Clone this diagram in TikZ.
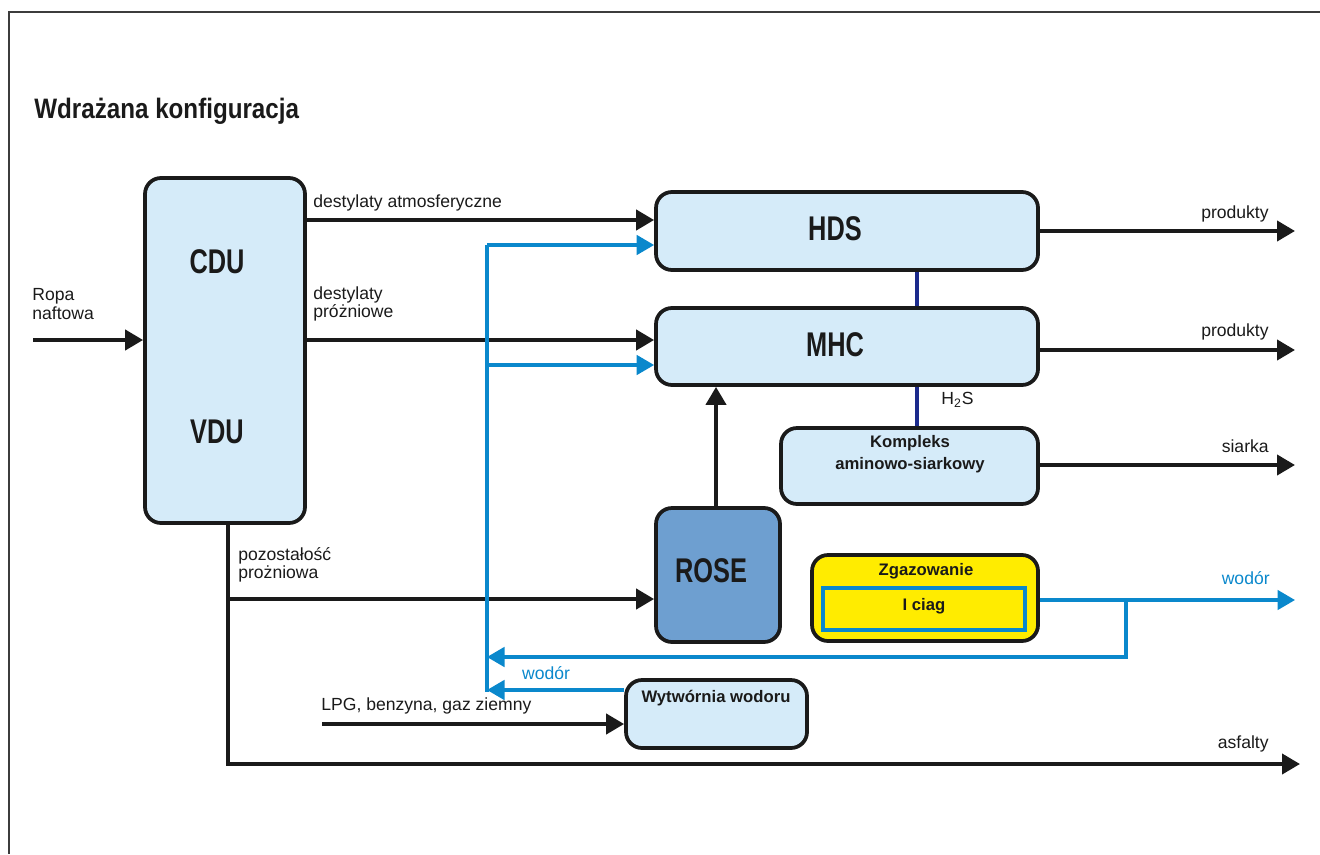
\documentclass[tikz,border=0pt]{standalone}
\usepackage{fontspec}
\setmainfont{Liberation Sans}
\newfontfamily\condfont[FakeStretch=0.74]{Liberation Sans}
\newfontfamily\titlefont[FakeStretch=0.86]{Liberation Sans}
\usetikzlibrary{positioning}
\usetikzlibrary{arrows.meta}
\usetikzlibrary{calc}

\definecolor{boxblue}{HTML}{D5EBF9}
\definecolor{roseblue}{HTML}{6E9FD0}
\definecolor{gasyellow}{HTML}{FFEC00}
\definecolor{hydroblue}{HTML}{0A88CC}
\definecolor{sulfnavy}{HTML}{1B2A8C}
\definecolor{ink}{HTML}{1A1A1A}

\tikzset{
  unit/.style={draw=ink, line width=0.75mm, rounded corners=3.2mm, fill=boxblue, inner sep=0pt},
  flow/.style={draw=ink, line width=0.8mm, -{Triangle[length=3.6mm,width=4mm]}},
  hflow/.style={draw=hydroblue, line width=0.65mm, -{Triangle[length=3.5mm,width=3.9mm]}},
  hline/.style={draw=hydroblue, line width=0.65mm},
  sline/.style={draw=sulfnavy, line width=0.65mm},
  lbl/.style={font=\fontsize{10}{9}\selectfont, text=ink, inner sep=0pt, align=left},
  big/.style={font=\condfont\bfseries\fontsize{19.5}{19.5}\selectfont, text=ink, inner sep=0pt},
  small/.style={font=\bfseries\fontsize{9.5}{12.5}\selectfont, text=ink, inner sep=0pt, align=center}
}

\begin{document}
\begin{tikzpicture}[x=0.2mm, y=-0.2mm]
  \useasboundingbox (0,0) rectangle (1320,854);

  % frame and title
  \draw[line width=0.45mm, ink!85] (1320,12) -- (9,12) -- (9,854);
  \node[anchor=west, inner sep=0pt, text=ink, font=\titlefont\bfseries\fontsize{16}{16}\selectfont] (title) at (34,111) {Wdrażana konfiguracja};

  % units
  \node[unit, minimum width=32mm, minimum height=69mm] (cdu) at (225,350.5) {};
  \node[big] (cdutxt) at (217,262) {CDU};
  \node[big] (vdutxt) at (217,432) {VDU};

  \node[unit, minimum width=76.4mm, minimum height=15.6mm] (hds) at (847,231) {};
  \node[big] (hdstxt) at (835,229) {HDS};
  \node[unit, minimum width=76.4mm, minimum height=15.4mm] (mhc) at (847,346.5) {};
  \node[big] (mhctxt) at (835,345) {MHC};

  \node[unit, minimum width=51.4mm, minimum height=15.2mm] (amine) at (909.5,466) {};
  \node[small] (aminetxt) at (910,454) {Kompleks\\aminowo-siarkowy};

  \node[unit, fill=roseblue, minimum width=24.8mm, minimum height=26.8mm] (rose) at (718,575) {};
  \node[big] (rosetxt) at (711,571) {ROSE};

  \node[unit, fill=gasyellow, minimum width=45.2mm, minimum height=17.2mm] (gas) at (925,598) {};
  \node[small] (gastxt) at (926,571) {Zgazowanie};
  \node[draw=hydroblue, line width=0.7mm, fill=gasyellow, minimum width=40.4mm, minimum height=8.4mm, inner sep=0pt] (train) at (924,609) {};
  \node[small] (traintxt) at (924,606) {I ciag};

  \node[unit, minimum width=36.2mm, minimum height=13.6mm] (plant) at (716.5,714) {};
  \node[small] (planttxt) at (716,698) {Wytwórnia wodoru};

  % levels
  \coordinate (crude) at (33,340);
  \coordinate (yatm) at (0,220);
  \coordinate (yvac) at (0,340);
  \coordinate (htop) at (487,245);
  \coordinate (hmid) at (487,365);
  \coordinate (hret) at (487,657);
  \coordinate (hlow) at (487,690);
  \coordinate (hbot) at (487,692);
  \coordinate (hturn) at (1126,657);
  \coordinate (hout) at (1295,600);
  \coordinate (sx) at (917,0);
  \coordinate (rx) at (716,0);
  \coordinate (rbr) at (228,599);
  \coordinate (rcor) at (228,764);
  \coordinate (asph) at (1300,764);
  \coordinate (lpg) at (322,724);
  \coordinate (prod1) at (1295,231);
  \coordinate (prod2) at (1295,350);
  \coordinate (sulf) at (1295,465);

  % black streams
  \draw[flow] (crude) -- (cdu.west |- crude);
  \draw[flow] (cdu.east |- yatm) -- (hds.west |- yatm);
  \draw[flow] (cdu.east |- yvac) -- (mhc.west |- yvac);
  \draw[flow] (cdu.south -| rcor) -- (rcor) -- (asph);
  \draw[flow] (rbr) -- (rose.west |- rbr);
  \draw[flow] (rose.north -| rx) -- (mhc.south -| rx);
  \draw[flow] (lpg) -- (plant.west |- lpg);
  \draw[flow] (hds.east |- prod1) -- (prod1);
  \draw[flow] (mhc.east |- prod2) -- (prod2);
  \draw[flow] (amine.east |- sulf) -- (sulf);

  % hydrogen
  \draw[hline] (htop) -- (hbot);
  \draw[hflow] (htop) -- (hds.west |- htop);
  \draw[hflow] (hmid) -- (mhc.west |- hmid);
  \draw[hflow] (gas.east |- hout) -- (hout);
  \draw[hflow] (hturn |- hout) -- (hturn) -- (hret);
  \draw[hflow] (plant.west |- hlow) -- (hlow);

  % H2S
  \draw[sline] (hds.south -| sx) -- (mhc.north -| sx);
  \draw[sline] (mhc.south -| sx) -- (amine.north -| sx);

  % labels
  \node[lbl, anchor=west] (lcrude) at (32,304) {Ropa\\naftowa};
  \node[lbl, anchor=west] (latm) at (313,203) {destylaty atmosferyczne};
  \node[lbl, anchor=west] (lvac) at (313,304) {destylaty\\próżniowe};
  \node[lbl, anchor=west] (lres) at (238,565) {pozostałość\\prożniowa};
  \node[lbl, anchor=west] (llpg) at (321,706) {LPG, benzyna, gaz ziemny};
  \node[lbl, anchor=west] (lh2s) at (941,400) {H\textsubscript{2}S};
  \node[lbl, anchor=east] (lprod1) at (1269,214) {produkty};
  \node[lbl, anchor=east] (lprod2) at (1269,332) {produkty};
  \node[lbl, anchor=east] (lsulf) at (1269,446) {siarka};
  \node[lbl, anchor=east] (lasph) at (1269,744) {asfalty};
  \node[lbl, anchor=east, text=hydroblue] (lhout) at (1270,578) {wodór};
  \node[lbl, text=hydroblue] (lhlow) at (546,673) {wodór};
\end{tikzpicture}
\end{document}
